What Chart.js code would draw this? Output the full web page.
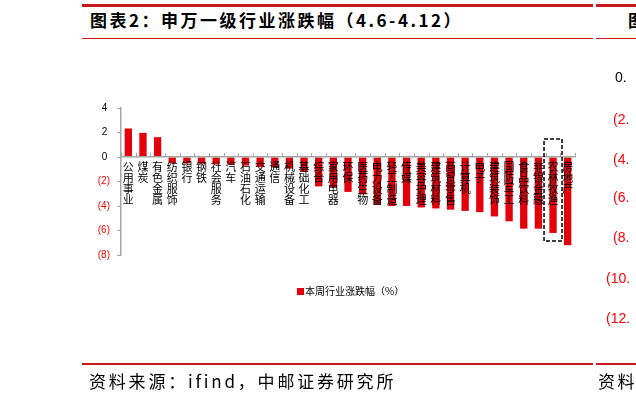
<!DOCTYPE html>
<html><head><meta charset="utf-8">
<script src="https://cdn.jsdelivr.net/npm/chart.js@4.4.1/dist/chart.umd.min.js"></script>
<style>
html,body{margin:0;padding:0;width:636px;height:401px;overflow:hidden;background:#fff;position:relative;font-family:"Noto Sans CJK SC",sans-serif;}
.abs{position:absolute;white-space:nowrap;}
.hline{position:absolute;background:#c8161d;}
#wrap{position:absolute;left:0;top:0;width:636px;height:401px;}
.rl{position:absolute;left:615px;font-family:"Liberation Sans",Arial,sans-serif;font-size:14px;line-height:16px;color:#ff0000;white-space:nowrap;}
</style></head><body>
<div class="hline" style="left:82px;top:4px;width:511px;height:3px"></div>
<div class="hline" style="left:596px;top:4px;width:40px;height:3px"></div>
<div class="abs" style="left:90px;top:9px;font-size:17px;font-weight:700;letter-spacing:2.5px;color:#000;line-height:22px">图表2：申万一级行业涨跌幅（4.6-4.12）</div>
<div class="abs" style="left:628px;top:9px;font-size:17px;font-weight:700;line-height:22px;color:#000">图</div>
<div class="hline" style="left:82px;top:38px;width:511px;height:1px"></div>
<div class="hline" style="left:596px;top:38px;width:40px;height:1px"></div>

<div id="wrap"><canvas id="c" width="636" height="401"></canvas></div>

<div class="rl" style="top:69px;color:#000">0.</div>
<div class="rl" style="top:111px;left:613px">(2.</div>
<div class="rl" style="top:151px;left:613px">(4.</div>
<div class="rl" style="top:189px;left:613px">(6.</div>
<div class="rl" style="top:229px;left:613px">(8.</div>
<div class="rl" style="top:270px;left:606px">(10.</div>
<div class="rl" style="top:310px;left:606px">(12.</div>

<div class="abs" style="left:297px;top:288px;width:7px;height:7px;background:#e3000b"></div>
<div class="abs" id="legendText" style="left:305px;top:284px;font-size:10px;line-height:14px;color:#000"></div>

<div class="hline" style="left:82px;top:363px;width:511px;height:1.5px"></div>
<div class="hline" style="left:596px;top:363px;width:40px;height:1.5px"></div>
<div class="abs" style="left:89px;top:370px;font-size:17px;letter-spacing:2.8px;line-height:22px;color:#000">资料来源：ifind，中邮证券研究所</div>
<div class="abs" style="left:598px;top:370px;font-size:17px;letter-spacing:2.5px;line-height:22px;color:#000">资料</div>

<script>
const categories = ['公用事业','煤炭','有色金属','纺织服饰','银行','钢铁','社会服务','汽车','石油石化','交通运输','通信','机械设备','基础化工','综合','家用电器','环保','医药生物','电力设备','轻工制造','传媒','美容护理','建筑材料','商贸零售','计算机','电子','建筑装饰','国防军工','食品饮料','非银金融','农林牧渔','房地产'];
const weeklyChange = [2.33,1.97,1.62,-0.50,-0.52,-0.55,-0.60,-0.63,-0.70,-0.82,-0.85,-0.95,-1.20,-2.40,-2.45,-2.85,-3.05,-3.90,-4.00,-4.00,-4.12,-4.20,-4.30,-4.40,-4.50,-4.85,-5.25,-5.85,-5.85,-6.20,-7.20];
const yTickValues = [4,2,0,-2,-4,-6,-8];
const seriesName = '本周行业涨跌幅（%）';
const highlightCategory = '农林牧渔';

document.getElementById('legendText').textContent = seriesName;

const decor = {
  id: 'decor',
  afterDraw(chart) {
    const {ctx, scales: {x, y}} = chart;
    const y0 = y.getPixelForValue(0);
    ctx.save();
    ctx.strokeStyle = '#a6a6a6';
    ctx.lineWidth = 1;
    const n = categories.length;
    const step = x.width / n;
    for (let i = 0; i <= n; i++) {
      const px = Math.round(x.left + i * step) + 0.5;
      ctx.beginPath(); ctx.moveTo(px, y0); ctx.lineTo(px, y0 - 4); ctx.stroke();
    }
    const idx = categories.indexOf(highlightCategory);
    const cx = x.getPixelForValue(idx);
    const yb = y.getPixelForValue(weeklyChange[idx]);
    ctx.setLineDash([4, 2]);
    ctx.strokeStyle = '#000';
    ctx.lineWidth = 1.5;
    ctx.strokeRect(cx - 9, y0 - 18, 18, (yb + 8) - (y0 - 18));
    ctx.restore();
  }
};

new Chart(document.getElementById('c'), {
  type: 'bar',
  data: {
    labels: categories.map(s => s.split('')),
    datasets: [{
      label: seriesName,
      data: weeklyChange,
      backgroundColor: '#e3000b',
      borderWidth: 0,
      barPercentage: 0.5,
      categoryPercentage: 1.0
    }]
  },
  options: {
    responsive: false,
    animation: false,
    devicePixelRatio: 1,
    layout: {padding: {left: 91, right: 61, top: 108, bottom: 146}},
    plugins: {legend: {display: false}, tooltip: {enabled: false}},
    scales: {
      x: {
        position: {y: 0},
        grid: {drawOnChartArea: false, drawTicks: false},
        border: {color: '#a6a6a6', width: 1.5, z: 1},
        ticks: {
          z: 2,
          autoSkip: false, maxRotation: 0, minRotation: 0, padding: 4, color: '#000',
          font: {family: '"Noto Sans CJK SC"', size: 11, lineHeight: 1.0}
        }
      },
      y: {
        min: -8, max: 4,
        afterBuildTicks(s) { s.ticks = yTickValues.map(v => ({value: v})); },
        afterFit(s) { s.width = 30; },
        grid: {drawOnChartArea: false, tickLength: 4, color: '#a6a6a6'},
        border: {color: '#a6a6a6', width: 1.5},
        ticks: {
          padding: 7,
          font: {family: '"Liberation Sans", Arial, sans-serif', size: 10},
          color: c => (c.tick && c.tick.value < 0) ? '#ff0000' : '#000',
          callback: v => v < 0 ? '(' + (-v) + ')' : v + ' '
        }
      }
    }
  },
  plugins: [decor]
});
</script>
</body></html>
